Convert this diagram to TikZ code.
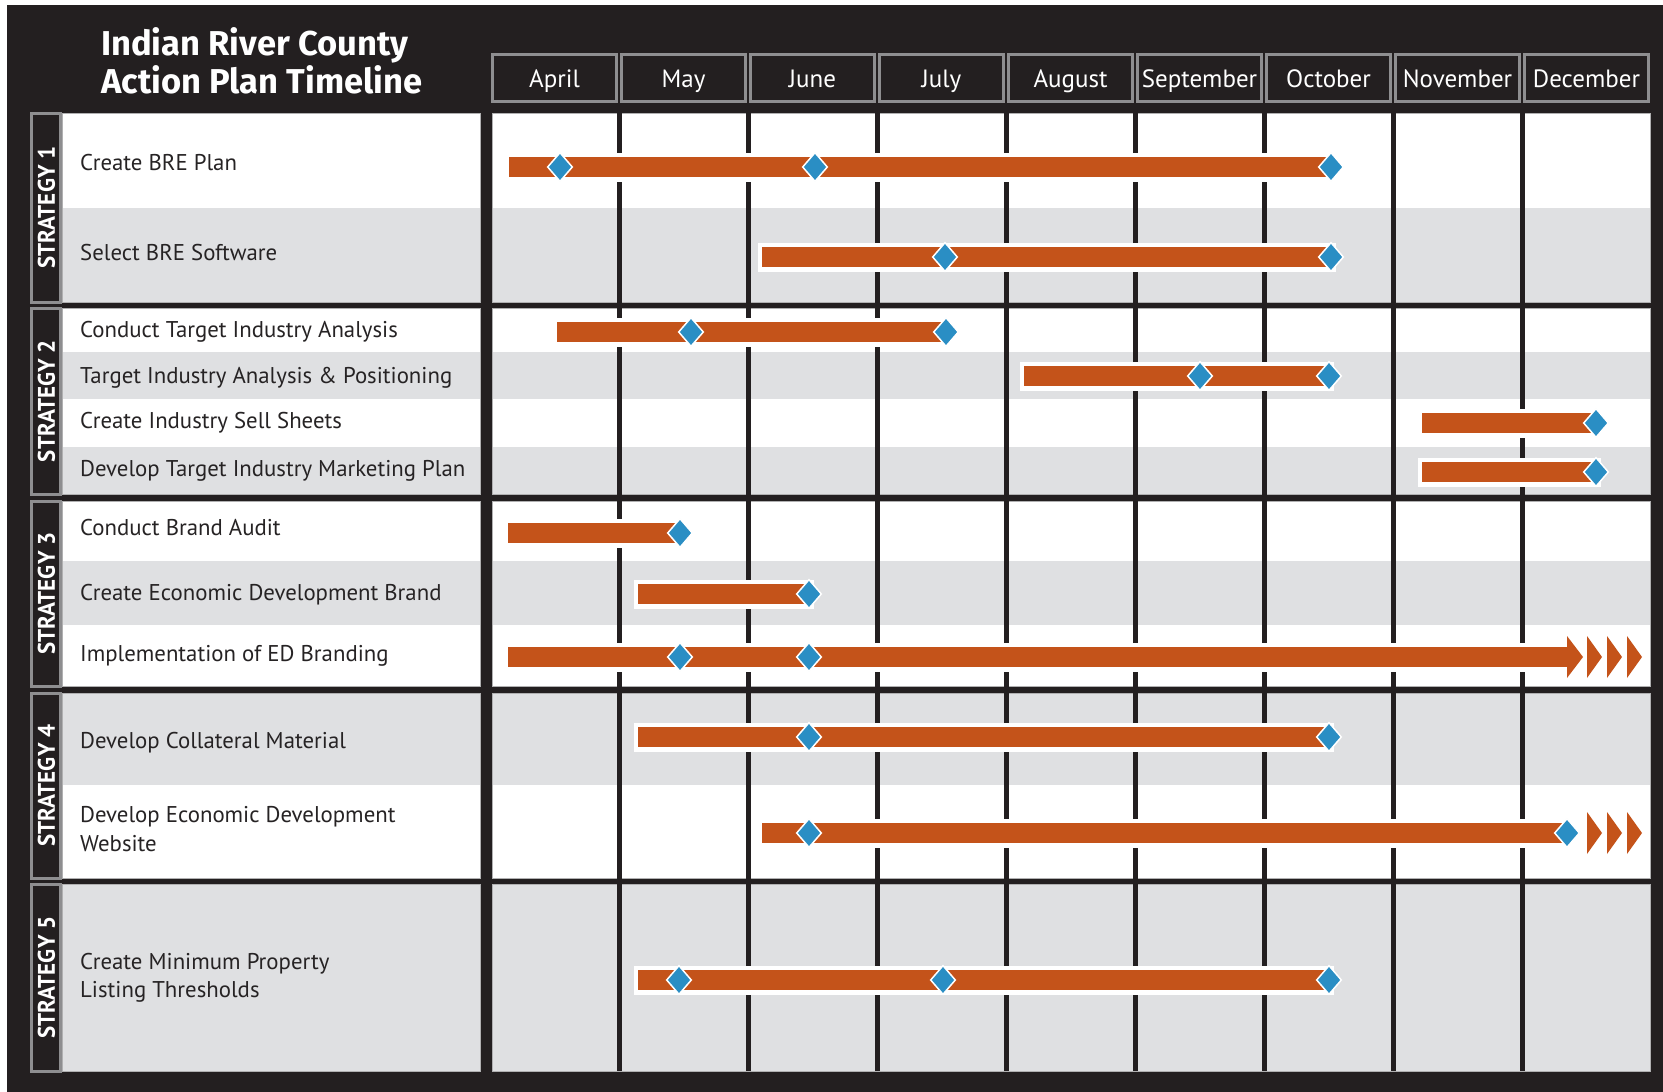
\documentclass[tikz,border=0pt]{standalone}
\usepackage{fontspec}
\setmainfont{PT Sans}
\newfontfamily\stratfont[FakeStretch=0.96]{PT Sans}
\newfontfamily\titlefont{Fira Sans}
\usetikzlibrary{calc}
\definecolor{bg}{HTML}{231F20}
\definecolor{rowgray}{HTML}{DFE0E2}
\definecolor{barc}{HTML}{C4531A}
\definecolor{msc}{HTML}{2A8EC4}
\definecolor{edge}{HTML}{8E8E90}
\definecolor{txt}{HTML}{262324}
\newcommand\gbar[3]{%
  \fill[white] (#1-4.5,#3-14.5) rectangle (#2+4.5,#3+14.5);
  \fill[barc] (#1,#3-10) rectangle (#2,#3+10);}
\newcommand\dmd[2]{%
  \draw[white, line width=1.5pt, fill=msc, line join=miter] (#1,#2-14.3) -- (#1+12.3,#2) -- (#1,#2+14.3) -- (#1-12.3,#2) -- cycle;}
\newcommand\chev[2]{%
  \fill[barc] (#1,#2-21) -- (#1+15,#2) -- (#1,#2+21) -- cycle;}
\tikzset{
  rowtext/.style={anchor=base west, inner sep=0pt, text=txt, font=\fontsize{22.8}{27}\selectfont},
  monthtext/.style={anchor=base, inner sep=0pt, text=white, font=\fontsize{25}{29}\selectfont},
  titletext/.style={anchor=base west, inner sep=0pt, text=white, font=\fontsize{34.5}{40}\selectfont\titlefont\bfseries},
  strattext/.style={rotate=90, inner sep=0pt, text=white, font=\fontsize{24}{28}\selectfont\stratfont\bfseries},
}
\begin{document}
\begin{tikzpicture}[x=1pt,y=-1pt]
\useasboundingbox (0,0) rectangle (1663,1092);
\fill[white] (0,0) rectangle (1663,1092);
\fill[bg] (7,5) rectangle (1663,1092);
% title
\node[titletext] (title1) at (101,55) {Indian River County};
\node[titletext] (title2) at (101,93) {Action Plan Timeline};
% month header
\foreach \i/\m in {0/April,1/May,2/June,3/July,4/August,5/September,6/October,7/November,8/December}{
  \draw[edge, line width=3pt] ({490+129*\i+2.5},54.5) rectangle ({490+129*(\i+1)-2.5},101.5);
  \node[monthtext] (m\i) at ({490+129*\i+64.5},87) {\m};
}
% blocks
\foreach \a/\b in {113/302, 308/494, 501/686, 693/878, 884/1071}{
  \fill[white] (62,\a) rectangle (480,\b);
  \fill[white] (492,\a) rectangle (1650,\b);
}
\foreach \a/\b in {208/302, 352/399, 447/494, 561/625, 693/785, 884/1071}{
  \fill[rowgray] (62,\a) rectangle (480,\b);
  \fill[rowgray] (492,\a) rectangle (1650,\b);
}
\foreach \a/\b in {113/302, 308/494, 501/686, 693/878, 884/1071}{
  \draw[edge!70, line width=0.8pt] (62,\a) rectangle (480,\b);
  \draw[edge!70, line width=0.8pt] (492,\a) rectangle (1650,\b);
}
% strategy labels
\foreach \a/\b/\n in {113/302/1, 308/494/2, 501/686/3, 693/878/4, 884/1071/5}{
  \draw[edge, line width=3pt, fill=bg] (31.5,\a) rectangle (60.5,\b);
  \node[strattext] (s\n) at (46.5,{(\a+\b)/2}) {STRATEGY \n};
}
% month lines
\foreach \i in {0,...,7}{
  \draw[bg, line width=5pt] ({619+129*\i},113) -- ({619+129*\i},1071);
}
% bars
\gbar{509}{1331}{167} \dmd{560}{167} \dmd{815}{167} \dmd{1331}{167}
\gbar{762}{1331}{257} \dmd{945}{257} \dmd{1331}{257}
\gbar{557}{946}{332} \dmd{691}{332} \dmd{946}{332}
\gbar{1024}{1329}{376} \dmd{1200}{376} \dmd{1329}{376}
\gbar{1422}{1596}{423} \dmd{1596}{423}
\gbar{1422}{1596}{472} \dmd{1596}{472}
\gbar{508}{680}{533} \dmd{680}{533}
\gbar{638}{809}{594} \dmd{809}{594}
\gbar{508}{1568}{657}
\fill[barc] (1567,636) -- (1583,657) -- (1567,678) -- cycle;
\chev{1587}{657} \chev{1607}{657} \chev{1627}{657}
\dmd{680}{657} \dmd{809}{657}
\gbar{638}{1329}{737} \dmd{809}{737} \dmd{1329}{737}
\gbar{762}{1567}{833} \dmd{809}{833} \dmd{1567}{833}
\chev{1587}{833} \chev{1607}{833} \chev{1627}{833}
\gbar{638}{1329}{980} \dmd{679}{980} \dmd{943}{980} \dmd{1329}{980}
% row texts
\node[rowtext] (t1) at (80,170) {Create BRE Plan};
\node[rowtext] (t2) at (80,260) {Select BRE Software};
\node[rowtext] (t3) at (80,337) {Conduct Target Industry Analysis};
\node[rowtext] (t4) at (80,383) {Target Industry Analysis \& Positioning};
\node[rowtext] (t5) at (80,428) {Create Industry Sell Sheets};
\node[rowtext] (t6) at (80,476) {Develop Target Industry Marketing Plan};
\node[rowtext] (t7) at (80,535) {Conduct Brand Audit};
\node[rowtext] (t8) at (80,600) {Create Economic Development Brand};
\node[rowtext] (t9) at (80,661) {Implementation of ED Branding};
\node[rowtext] (t10) at (80,748) {Develop Collateral Material};
\node[rowtext] (t11a) at (80,822) {Develop Economic Development};
\node[rowtext] (t11b) at (80,851) {Website};
\node[rowtext] (t12a) at (80,969) {Create Minimum Property};
\node[rowtext] (t12b) at (80,997) {Listing Thresholds};
\end{tikzpicture}
\end{document}
